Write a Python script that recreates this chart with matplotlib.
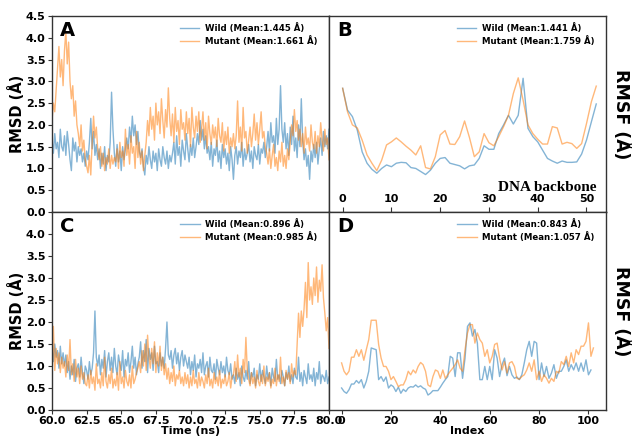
import numpy as np
import matplotlib
matplotlib.use("Agg")
import matplotlib.pyplot as plt

# ---------------- data ----------------
time_ns = np.round(np.arange(60.0, 80.0001, 0.1), 1)

rmsd_protein_wild = [
    1.65,1.35,1.80,1.45,1.60,1.25,1.90,1.50,1.40,1.75,1.30,1.85,1.55,1.20,0.95,1.70,1.40,1.60,1.15,1.50,1.30,
    1.45,1.15,1.35,1.05,1.40,1.20,
    1.60,2.15,1.45,1.85,1.30,1.55,
    1.20,1.45,1.00,1.35,1.10,1.50,0.95,1.30,1.15,
    1.60,2.75,1.90,
    1.35,1.05,1.55,1.15,1.40,0.95,1.50,1.20,1.45,
    1.70,1.45,1.95,1.60,2.20,1.75,2.00,1.55,1.85,1.40,
    1.25,1.45,1.05,0.85,1.30,1.10,1.50,1.20,1.00,1.40,1.15,1.35,0.95,1.45,1.20,1.05,1.50,1.25,1.10,1.40,1.00,1.30,1.15,
    1.35,1.60,1.10,1.75,1.30,1.50,1.05,1.65,1.40,1.20,1.80,1.45,1.15,1.55,1.30,1.70,1.25,1.50,
    1.80,1.55,2.10,1.65,1.90,1.45,1.75,1.35,
    1.50,1.20,1.60,1.05,1.45,1.30,1.65,1.15,1.40,1.00,1.55,1.25,1.45,1.10,1.35,0.95,1.50,1.20,
    0.75,
    1.30,1.50,1.10,1.40,1.25,1.60,1.05,1.45,1.20,1.35,1.55,1.15,1.40,1.00,1.50,1.30,1.20,1.55,1.10,1.45,1.35,1.60,1.25,
    1.50,1.85,1.40,2.05,1.60,1.75,1.35,2.15,1.55,1.90,
    2.90,1.90,
    1.60,2.05,1.45,1.80,1.30,1.95,1.55,2.20,1.40,1.70,1.25,2.00,1.50,2.60,
    1.65,1.20,1.45,1.05,1.30,0.75,1.40,1.15,1.55,1.25,1.60,1.10,1.45,1.70,1.30,1.85,1.50,1.75,1.45,1.90,
]
rmsd_protein_mutant = [
    2.10,2.50,2.30,2.80,
    3.30,3.80,3.10,3.50,2.90,3.70,4.15,3.40,3.90,
    3.00,2.60,2.90,2.20,2.55,2.00,
    1.80,1.50,2.00,1.40,1.65,1.20,
    1.05,0.90,1.30,0.85,
    1.60,2.20,1.70,1.95,1.45,
    1.20,1.50,1.05,1.35,0.95,1.25,1.10,1.45,
    1.00,1.30,1.10,1.25,
    1.15,1.45,1.00,1.60,1.25,1.40,1.05,1.90,1.30,1.55,1.10,1.75,1.35,1.50,1.00,1.85,1.25,1.60,1.10,1.40,0.95,1.30,
    1.60,2.10,1.75,2.40,1.90,2.20,1.65,2.50,2.00,2.30,1.80,2.60,2.10,1.70,2.35,1.95,2.85,2.15,1.75,2.25,
    1.60,2.40,1.85,2.10,1.55,2.35,1.90,2.05,1.65,2.30,1.80,2.15,1.50,2.40,1.95,1.70,2.20,1.85,2.30,1.60,
    1.90,2.30,1.65,2.05,1.45,2.20,1.80,1.55,2.00,1.70,1.95,1.50,2.15,1.75,1.60,2.05,1.40,1.85,1.55,1.95,1.35,1.70,1.50,1.80,1.45,
    1.75,2.55,1.60,1.95,1.40,2.40,1.70,1.85,1.35,1.65,1.95,1.50,
    1.80,2.25,1.65,2.05,1.55,1.90,2.30,1.70,1.85,1.50,
    1.35,1.10,1.45,1.00,1.30,1.55,1.05,1.25,0.95,1.40,1.15,1.60,1.05,1.30,1.00,1.45,1.20,
    1.60,2.00,1.75,2.35,1.85,2.10,1.65,1.90,
    1.50,1.80,1.35,1.95,1.55,1.70,1.40,2.00,1.60,1.45,1.85,1.35,1.75,1.50,2.05,1.65,1.40,1.90,1.55,1.70,1.20,
]
rmsd_dna_wild = [
    1.40,1.10,1.50,1.20,1.35,0.95,1.45,1.05,1.30,1.00,1.25,
    0.85,1.10,0.70,1.00,0.80,1.15,0.65,0.95,1.05,0.75,1.20,0.85,0.60,1.00,0.90,0.70,1.10,0.80,0.95,
    1.30,2.25,1.20,
    1.00,1.25,0.80,1.15,0.95,1.35,0.75,1.10,1.30,0.90,1.20,0.85,1.40,1.00,0.80,1.25,1.05,0.90,1.35,0.75,1.15,1.00,1.30,0.85,1.10,1.45,0.95,1.20,0.80,1.05,
    1.20,1.55,0.95,1.35,1.10,1.60,0.85,1.40,1.15,1.30,0.90,1.45,1.05,
    1.10,0.85,1.30,1.00,1.20,0.95,
    1.40,2.00,1.25,
    1.15,1.35,0.95,1.25,1.40,1.05,1.30,0.90,1.20,1.35,1.00,1.25,1.10,
    0.95,1.20,0.80,1.10,0.90,1.25,0.75,1.05,0.95,1.15,0.85,1.30,0.80,1.00,1.10,0.75,1.20,0.90,0.85,1.05,0.70,1.15,0.95,0.80,1.10,0.85,1.00,0.75,1.20,0.90,0.80,1.05,0.70,
    0.80,0.60,0.95,0.70,0.85,0.55,1.00,0.75,0.65,0.90,0.70,1.10,0.60,0.85,0.75,0.95,0.55,0.80,0.70,1.05,
    0.65,0.90,0.75,0.60,1.00,0.70,0.85,0.55,0.95,0.75,0.65,1.15,0.70,0.80,0.60,0.90,0.75,0.55,0.85,0.70,
    1.00,0.65,0.80,0.60,0.95,0.75,0.70,1.20,0.65,0.85,0.55,0.90,0.75,0.60,1.05,0.70,0.80,0.65,0.95,0.55,
    0.85,0.70,1.10,0.60,0.80,0.75,0.65,0.90,0.60,0.75,
]
rmsd_dna_mutant = [
    0.70,1.90,0.90,1.40,1.05,
    1.30,0.85,1.20,0.95,1.10,0.75,1.25,0.90,1.60,0.80,1.05,0.65,1.15,0.75,0.95,0.60,1.00,0.70,0.85,0.60,
    0.55,0.80,0.50,0.90,0.60,0.75,0.45,1.05,0.60,0.70,0.50,0.85,0.55,1.20,0.65,0.50,0.80,0.60,0.95,0.50,
    0.70,0.55,0.85,0.45,1.10,0.60,0.75,0.50,0.90,0.65,0.55,0.80,0.50,1.00,0.60,0.70,0.85,0.95,
    1.10,0.85,1.35,1.00,1.50,0.90,1.70,1.20,0.95,1.40,1.05,1.55,0.85,1.30,1.00,1.45,0.90,1.20,0.80,1.05,
    0.70,0.95,0.60,0.85,0.65,1.00,0.55,0.80,0.70,0.90,0.60,0.75,0.55,0.85,
    0.60,0.80,0.50,0.75,0.55,0.90,0.60,0.70,0.50,0.85,0.55,0.75,0.65,0.50,0.80,0.60,0.95,0.55,0.70,0.50,
    0.85,0.60,0.75,0.55,0.90,0.50,0.70,0.60,0.80,0.55,0.65,0.85,0.50,0.75,
    0.80,1.10,0.65,1.25,0.75,0.95,0.60,1.15,0.85,1.65,0.90,
    0.70,0.55,0.85,0.60,0.75,0.50,0.90,0.65,0.55,0.80,0.60,1.00,0.55,0.75,0.65,0.85,0.50,0.70,0.60,0.95,
    0.55,0.80,0.65,1.20,0.60,0.75,0.55,0.90,0.70,0.85,0.60,1.05,0.75,0.90,0.80,
    1.50,2.20,1.65,2.25,1.90,
    2.30,2.90,2.10,3.35,2.50,2.80,
    2.40,3.00,2.60,3.25,2.45,2.95,2.70,3.30,2.55,
    2.20,1.80,2.10,1.40,
]

rmsf_b_wild = [2.84,2.34,2.19,1.88,1.38,1.12,0.98,0.89,1.00,1.08,1.04,1.12,1.14,1.13,1.02,1.00,0.93,0.86,
               0.96,1.12,1.23,1.25,1.12,1.09,1.06,0.99,1.06,1.08,1.23,1.52,1.44,1.44,1.80,2.00,2.22,2.02,
               2.22,3.07,1.92,1.73,1.61,1.42,1.23,1.17,1.12,1.17,1.14,1.14,1.15,1.33,1.65,2.07,2.48]
rmsf_b_mutant = [2.84,2.30,2.00,1.93,1.65,1.31,1.12,0.95,1.19,1.54,1.61,1.70,1.61,1.51,1.42,1.31,1.52,1.02,
                 0.99,1.27,1.77,1.87,1.56,1.55,1.73,2.09,1.71,1.27,1.38,1.80,1.59,1.52,1.73,1.96,2.22,2.72,
                 3.08,2.57,2.00,1.80,1.67,1.56,1.56,1.96,1.93,1.56,1.60,1.57,1.46,1.57,2.03,2.53,2.89]

rmsf_d_wild = [0.50,0.42,0.38,0.46,0.59,0.59,0.67,0.61,0.69,0.50,0.65,0.88,1.41,1.39,1.37,0.69,0.76,0.65,
               0.75,0.50,0.57,0.53,0.42,0.52,0.38,0.47,0.42,0.50,0.53,0.52,0.57,0.52,0.55,0.50,0.47,0.34,
               0.38,0.44,0.44,0.44,0.52,0.61,0.69,0.76,1.22,1.18,0.76,1.30,1.30,0.72,1.18,1.90,1.98,1.68,
               1.83,1.52,0.69,0.69,0.99,0.69,0.99,0.69,1.37,1.18,0.76,1.03,1.18,0.78,0.99,0.80,0.72,0.75,
               0.69,0.80,1.07,1.37,1.56,1.22,1.56,1.52,0.69,1.07,0.76,0.99,0.72,0.84,1.03,0.72,0.88,0.88,
               0.99,1.14,0.88,1.03,0.91,1.07,0.88,1.07,0.88,1.14,0.80,0.91]
rmsf_d_mutant = [1.07,0.88,0.80,0.88,1.20,1.20,1.37,1.22,1.37,1.13,1.37,1.60,2.04,2.04,2.04,1.49,1.18,0.99,
                 0.99,0.88,0.69,0.76,0.65,0.53,0.57,0.57,0.69,0.88,0.80,0.91,0.84,0.99,1.08,1.03,0.88,0.57,
                 0.53,0.76,0.91,0.88,0.72,0.91,0.72,0.80,0.88,0.95,1.03,1.14,0.95,0.88,1.37,1.75,1.94,1.94,
                 1.52,1.75,1.60,1.52,1.22,1.37,1.07,1.22,1.49,1.52,1.18,0.91,1.10,0.84,1.07,1.10,0.99,0.72,
                 0.70,0.76,0.80,0.91,1.07,0.88,1.14,0.69,0.88,0.65,0.80,0.72,0.61,0.72,0.65,0.88,0.84,1.10,
                 1.03,1.22,0.99,1.30,1.07,1.37,1.26,1.45,1.45,1.56,1.98,1.22,1.41]

legend_a = ["Wild (Mean:1.445 Å)", "Mutant (Mean:1.661 Å)"]
legend_b = ["Wild (Mean:1.441 Å)", "Mutant (Mean:1.759 Å)"]
legend_c = ["Wild (Mean:0.896 Å)", "Mutant (Mean:0.985 Å)"]
legend_d = ["Wild (Mean:0.843 Å)", "Mutant (Mean:1.057 Å)"]
ticks_y = [0.0, 0.5, 1.0, 1.5, 2.0, 2.5, 3.0, 3.5, 4.0, 4.5]
ticks_time = [60.0, 62.5, 65.0, 67.5, 70.0, 72.5, 75.0, 77.5, 80.0]
ticks_b = [0, 10, 20, 30, 40, 50]
ticks_d = [0, 20, 40, 60, 80, 100]

# ---------------- style ----------------
C_WILD = "#1f77b4"
C_MUT = "#ff7f0e"
ALPHA = 0.55
SPINE = "#333333"
TICK_FS = 8

plt.rcParams["font.family"] = ["DejaVu Sans"]
plt.rcParams["font.weight"] = "bold"

fig = plt.figure(figsize=(6.32, 4.37), dpi=100)
W, H = 632.0, 437.0
xl, xm, xr = 52 / W, 329 / W, 606 / W
yt, ym, yb = 1 - 16 / H, 1 - 212 / H, 1 - 410 / H

axA = fig.add_axes([xl, ym, xm - xl, yt - ym])
axB = fig.add_axes([xm, ym, xr - xm, yt - ym])
axC = fig.add_axes([xl, yb, xm - xl, ym - yb])
axD = fig.add_axes([xm, yb, xr - xm, ym - yb])

for ax in (axA, axB, axC, axD):
    for s in ax.spines.values():
        s.set_color(SPINE)
        s.set_linewidth(1.0)
    ax.set_ylim(0, 4.5)
    ax.tick_params(length=3, pad=1.5, color=SPINE)

def legend(ax, labels):
    lg = ax.legend(labels, loc="upper right", frameon=False, fontsize=6.2,
                   handlelength=2.3, handletextpad=0.6,
                   bbox_to_anchor=(0.985, 1.005), labelspacing=0.35)
    for t in lg.get_texts():
        t.set_fontweight("bold")

# A
axA.plot(time_ns, rmsd_protein_wild, color=C_WILD, alpha=ALPHA, lw=1.0)
axA.plot(time_ns, rmsd_protein_mutant, color=C_MUT, alpha=ALPHA, lw=1.0)
axA.set_xlim(60, 80)
axA.set_xticks([])
axA.set_yticks(ticks_y)
axA.set_yticklabels([f"{v:.1f}" for v in ticks_y], fontsize=TICK_FS, fontweight="bold")
axA.set_ylabel("RMSD (Å)", fontsize=10.5, fontweight="bold", labelpad=0.5)
axA.text(0.03, 0.975, "A", transform=axA.transAxes, fontsize=14, fontweight="bold", va="top", ha="left")
legend(axA, legend_a)

# C
axC.plot(time_ns, rmsd_dna_wild, color=C_WILD, alpha=ALPHA, lw=1.0)
axC.plot(time_ns, rmsd_dna_mutant, color=C_MUT, alpha=ALPHA, lw=1.0)
axC.set_xlim(60, 80)
axC.set_xticks(ticks_time)
axC.set_xticklabels([f"{v:.1f}" for v in ticks_time], fontsize=TICK_FS, fontweight="bold")
axC.set_yticks(ticks_y[:-1])
axC.set_yticklabels([f"{v:.1f}" for v in ticks_y[:-1]], fontsize=TICK_FS, fontweight="bold")
axC.set_ylabel("RMSD (Å)", fontsize=10.5, fontweight="bold", labelpad=0.5)
axC.set_xlabel("Time (ns)", fontsize=8, fontweight="bold", labelpad=0)
axC.text(0.03, 0.975, "C", transform=axC.transAxes, fontsize=14, fontweight="bold", va="top", ha="left")
legend(axC, legend_c)

# B
xb_w = np.arange(len(rmsf_b_wild))
xb_m = np.arange(len(rmsf_b_mutant))
axB.plot(xb_w, rmsf_b_wild, color=C_WILD, alpha=ALPHA, lw=1.0)
axB.plot(xb_m, rmsf_b_mutant, color=C_MUT, alpha=ALPHA, lw=1.0)
axB.set_xlim(-2.8, 54.0)
axB.set_xticks(ticks_b)
axB.set_xticklabels([str(v) for v in ticks_b], fontsize=TICK_FS, fontweight="bold")
axB.tick_params(axis="x", direction="in", pad=-13, length=3.5)
axB.set_yticks([])
axB.yaxis.set_label_position("right")
axB.set_ylabel("RMSF (Å)", fontsize=12.5, fontweight="bold", rotation=270, labelpad=18)
axB.text(0.03, 0.975, "B", transform=axB.transAxes, fontsize=14, fontweight="bold", va="top", ha="left")
axB.text(0.965, 0.09, "DNA backbone", transform=axB.transAxes, fontsize=11, fontweight="bold",
         family=["Liberation Serif", "DejaVu Serif"], ha="right", va="bottom")
legend(axB, legend_b)

# D
xd_w = np.arange(len(rmsf_d_wild))
xd_m = np.arange(len(rmsf_d_mutant))
axD.plot(xd_w, rmsf_d_wild, color=C_WILD, alpha=ALPHA, lw=1.0)
axD.plot(xd_m, rmsf_d_mutant, color=C_MUT, alpha=ALPHA, lw=1.0)
axD.set_xlim(-5.1, 107.1)
axD.set_xticks(ticks_d)
axD.set_xticklabels([str(v) for v in ticks_d], fontsize=TICK_FS, fontweight="bold")
axD.set_yticks([])
axD.yaxis.set_label_position("right")
axD.set_ylabel("RMSF (Å)", fontsize=12.5, fontweight="bold", rotation=270, labelpad=18)
axD.set_xlabel("Index", fontsize=8, fontweight="bold", labelpad=0)
axD.text(0.03, 0.975, "D", transform=axD.transAxes, fontsize=14, fontweight="bold", va="top", ha="left")
legend(axD, legend_d)

fig.savefig("out.png", dpi=100)
